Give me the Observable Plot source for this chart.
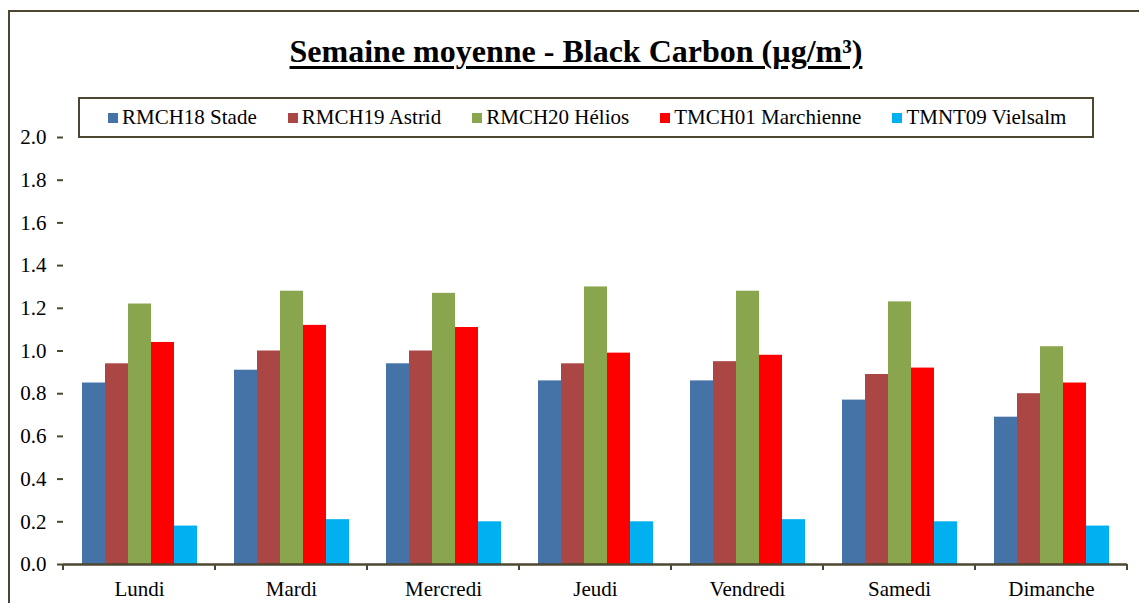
<!DOCTYPE html>
<html>
<head>
<meta charset="utf-8">
<script src="https://cdn.jsdelivr.net/npm/d3@7"></script>
<script src="https://cdn.jsdelivr.net/npm/@observablehq/plot@0.6"></script>
<style>
  html, body { margin: 0; padding: 0; background: #fff; }
  #wrap { position: relative; width: 1139px; height: 603px; overflow: hidden; font-family: "Liberation Serif", "Times New Roman", serif; }
  #frame { position: absolute; left: 8px; top: 10px; width: 1200px; height: 700px; border: 2px solid #4d4630; box-sizing: border-box; }
  #title { position: absolute; left: 0; width: 1152px; top: 35px; text-align: center; font-size: 32px; line-height: 32px; font-weight: bold;
           text-decoration: underline; text-decoration-thickness: 3px; text-underline-offset: 4px; color: #000; }
  #legend { position: absolute; left: 78px; top: 97px; width: 1016px; height: 41px; border: 2px solid #4d4630; box-sizing: border-box;
            display: flex; align-items: center; padding-left: 28px; gap: 31px; font-size: 21px; color: #000; }
  .item { display: flex; align-items: center; white-space: nowrap; }
  .sw { width: 10px; height: 10px; margin-right: 4px; }
  #chart { position: absolute; left: 0; top: 0; }
</style>
</head>
<body>
<div id="wrap">
  <div id="frame"></div>
  <div id="chart"></div>
  <div id="title">Semaine moyenne - Black Carbon (µg/m³)</div>
  <div id="legend"></div>
</div>
<script>
const days = ["Lundi", "Mardi", "Mercredi", "Jeudi", "Vendredi", "Samedi", "Dimanche"];
const stations = ["RMCH18 Stade", "RMCH19 Astrid", "RMCH20 Hélios", "TMCH01 Marchienne", "TMNT09 Vielsalm"];
const rmch18 = [0.85, 0.91, 0.94, 0.86, 0.86, 0.77, 0.69];
const rmch19 = [0.94, 1.00, 1.00, 0.94, 0.95, 0.89, 0.80];
const rmch20 = [1.22, 1.28, 1.27, 1.30, 1.28, 1.23, 1.02];
const tmch01 = [1.04, 1.12, 1.11, 0.99, 0.98, 0.92, 0.85];
const tmnt09 = [0.18, 0.21, 0.20, 0.20, 0.21, 0.20, 0.18];
const yTicks = [0, 0.2, 0.4, 0.6, 0.8, 1.0, 1.2, 1.4, 1.6, 1.8, 2.0];
const colors = ["#4572A7", "#AA4643", "#89A54E", "#FF0000", "#00B0F0"];

const seriesValues = [rmch18, rmch19, rmch20, tmch01, tmnt09];
const data = [];
days.forEach((d, i) => stations.forEach((s, j) => data.push({day: d, station: s, value: seriesValues[j][i]})));

const axisColor = "#4d4630";
const serif = "'Liberation Serif', 'Times New Roman', serif";

// boundary ticks below the category axis, drawn per facet from the scales
const boundaryTicks = (index, scales, values, dimensions) => {
  const g = d3.create("svg:g").attr("stroke", axisColor).attr("stroke-width", 2);
  const [x0, x1] = scales.x.range();
  const y0 = scales.y(0);
  for (const x of [x0, x1]) g.append("line").attr("x1", x).attr("x2", x).attr("y1", y0).attr("y2", y0 + 6);
  return g.node();
};

const chart = Plot.plot({
  width: 1139,
  height: 603,
  marginLeft: 62,
  marginRight: 12,
  marginTop: 137,
  marginBottom: 39,
  style: { fontFamily: serif, fontSize: "21px", color: "#000", background: "transparent" },
  fx: { domain: days, padding: 0, label: null, axis: null },
  x: { domain: stations, paddingInner: 0, paddingOuter: 0.75, axis: null },
  y: { domain: [0, 2], label: null },
  color: { domain: stations, range: colors },
  marks: [
    Plot.barY(data, { fx: "day", x: "station", y: "value", fill: "station" }),
    Plot.ruleY([0], { stroke: axisColor, strokeWidth: 2.5 }),
    boundaryTicks,
    Plot.ruleX([days[0]], { fx: d => d, render: (index, scales, values, dimensions) => {
      const g = d3.create("svg:g");
      const x = scales.x.range()[0];
      g.append("line").attr("x1", x).attr("x2", x).attr("y1", scales.y(2)).attr("y2", scales.y(0))
        .attr("stroke", axisColor).attr("stroke-width", 2.5);
      return g.node();
    }}),
    Plot.axisY({ ticks: yTicks, tickFormat: d => d.toFixed(1), tickSize: 6, tickPadding: 11, stroke: axisColor, strokeWidth: 2, label: null, fontSize: 21, fontFamily: serif }),
    Plot.axisFx({ anchor: "bottom", tickSize: 0, tickPadding: 17, label: null, fontSize: 21, fontFamily: serif })
  ]
});
document.getElementById("chart").appendChild(chart);

const legend = document.getElementById("legend");
stations.forEach((s, j) => {
  const it = document.createElement("div");
  it.className = "item";
  const sw = document.createElement("span");
  sw.className = "sw";
  sw.style.background = colors[j];
  const t = document.createElement("span");
  t.textContent = s;
  it.appendChild(sw);
  it.appendChild(t);
  legend.appendChild(it);
});
</script>
</body>
</html>
